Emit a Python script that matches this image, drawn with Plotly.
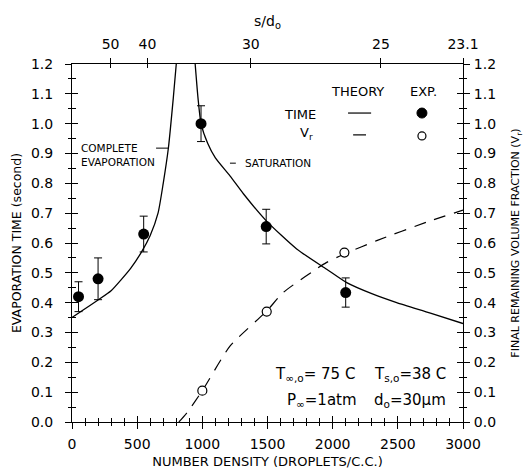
import plotly.graph_objects as go

# ---------------- data ----------------
# Theory: evaporation time (two branches around the singular region)
time_left_x = [0, 74, 200, 300, 381, 450, 535, 600, 660, 700, 740, 777, 800]
time_left_y = [0.35, 0.372, 0.409, 0.44, 0.479, 0.515, 0.571, 0.625, 0.70, 0.80, 0.92, 1.085, 1.2]
time_right_x = [945, 967, 990, 1040, 1100, 1212, 1315, 1489, 1724, 1954, 2108, 2300, 2491, 2750, 3000]
time_right_y = [1.2, 1.085, 1.0, 0.935, 0.885, 0.825, 0.765, 0.675, 0.58, 0.512, 0.467, 0.43, 0.40, 0.365, 0.33]

# Theory: final remaining volume fraction
vr_x = [820, 880, 1000, 1212, 1494, 1621, 1954, 2100, 2338, 2722, 3000]
vr_y = [0.0, 0.03, 0.105, 0.254, 0.372, 0.434, 0.535, 0.565, 0.608, 0.67, 0.71]

# Experiment: evaporation time with error bars
exp_time_x = [50, 200, 550, 990, 1490, 2100]
exp_time_y = [0.42, 0.48, 0.63, 1.00, 0.655, 0.434]
exp_time_err = [0.05, 0.07, 0.06, 0.06, 0.058, 0.049]

# Experiment: Vr
exp_vr_x = [1000, 1494, 2090]
exp_vr_y = [0.105, 0.37, 0.568]

# Axes
x_ticks = [0, 500, 1000, 1500, 2000, 2500, 3000]
top_tick_vals = [296, 579, 1372, 2370, 3000]
top_tick_text = ["50", "40", "30", "25", "23.1"]
y_ticks = [round(0.1 * i, 1) for i in range(13)]

FONT = "DejaVu Sans, Liberation Sans, sans-serif"

fig = go.Figure()

fig.add_trace(go.Scatter(x=time_left_x, y=time_left_y, mode="lines",
                         line=dict(color="black", width=1.3, shape="spline", smoothing=0.6),
                         showlegend=False))
fig.add_trace(go.Scatter(x=time_right_x, y=time_right_y, mode="lines",
                         line=dict(color="black", width=1.3, shape="spline", smoothing=0.6),
                         showlegend=False))
fig.add_trace(go.Scatter(x=vr_x, y=vr_y, mode="lines",
                         line=dict(color="black", width=1.2, dash="12px,9px",
                                   shape="spline", smoothing=0.6),
                         showlegend=False))
fig.add_trace(go.Scatter(x=exp_time_x, y=exp_time_y, mode="markers",
                         marker=dict(color="black", size=11),
                         error_y=dict(type="data", array=exp_time_err, visible=True,
                                      color="black", thickness=1, width=4),
                         showlegend=False))
fig.add_trace(go.Scatter(x=exp_vr_x, y=exp_vr_y, mode="markers",
                         marker=dict(color="white", size=9, line=dict(color="black", width=1.2)),
                         showlegend=False))

# empty carrier traces so the overlay axes get drawn
for xa, ya in [("x2", "y"), ("x3", "y"), ("x4", "y"), ("x", "y2"), ("x", "y3"), ("x", "y4")]:
    fig.add_trace(go.Scatter(x=[], y=[], xaxis=xa, yaxis=ya, mode="markers",
                             showlegend=False, hoverinfo="skip"))

tickfont = dict(family=FONT, size=14, color="black")
common = dict(showgrid=False, zeroline=False, linecolor="black", linewidth=1,
              tickcolor="black", tickwidth=1, automargin=False)

fig.update_layout(
    width=524, height=473,
    margin=dict(l=72, r=61, t=64, b=51),
    paper_bgcolor="white", plot_bgcolor="white",
    font=dict(family=FONT, color="black"),
    showlegend=False,
    xaxis=dict(range=[0, 3000], tickvals=x_ticks, ticks="outside", ticklen=6,
               showline=True, tickfont=tickfont, ticklabelstandoff=3,
               minor=dict(dtick=100, ticks="outside", ticklen=3, tickcolor="black"),
               title=dict(text="NUMBER DENSITY (DROPLETS/C.C.)",
                          font=dict(family=FONT, size=13), standoff=6),
               **common),
    xaxis2=dict(range=[0, 3000], overlaying="x", anchor="y", side="bottom",
                tickvals=x_ticks, ticks="inside", ticklen=6, showticklabels=False,
                showline=False,
                minor=dict(dtick=100, ticks="inside", ticklen=4, tickcolor="black"),
                **common),
    xaxis3=dict(range=[0, 3000], overlaying="x", anchor="y", side="top",
                tickvals=top_tick_vals, ticktext=top_tick_text, ticks="outside",
                ticklen=5, showline=True, tickfont=tickfont, ticklabelstandoff=3,
                title=dict(text="s/d<sub>o</sub>", font=dict(family=FONT, size=14), standoff=6),
                **common),
    xaxis4=dict(range=[0, 3000], overlaying="x", anchor="y", side="top",
                tickvals=top_tick_vals, ticks="inside", ticklen=4,
                showticklabels=False, showline=False, **common),
    yaxis=dict(range=[0, 1.2], tickvals=y_ticks, tickformat=".1f", ticks="outside",
               ticklen=6, showline=True, tickfont=tickfont, ticklabelstandoff=9,
               minor=dict(dtick=0.05, ticks="outside", ticklen=3, tickcolor="black"),
               title=dict(text="EVAPORATION TIME (second)",
                          font=dict(family=FONT, size=12.5), standoff=6),
               **common),
    yaxis2=dict(range=[0, 1.2], overlaying="y", anchor="x", side="left",
                tickvals=y_ticks, ticks="inside", ticklen=6, showticklabels=False,
                showline=False,
                minor=dict(dtick=0.05, ticks="inside", ticklen=4, tickcolor="black"),
                **common),
    yaxis3=dict(range=[0, 1.2], overlaying="y", anchor="x", side="right",
                tickvals=y_ticks, tickformat=".1f", ticks="outside", ticklen=6,
                showline=True, tickfont=tickfont, ticklabelstandoff=1,
                minor=dict(dtick=0.05, ticks="outside", ticklen=3, tickcolor="black"),
                title=dict(text="FINAL REMAINING VOLUME FRACTION (V<sub>r</sub>)",
                           font=dict(family=FONT, size=11), standoff=16),
                **common),
    yaxis4=dict(range=[0, 1.2], overlaying="y", anchor="x", side="right",
                tickvals=y_ticks, ticks="inside", ticklen=6, showticklabels=False,
                showline=False,
                minor=dict(dtick=0.05, ticks="inside", ticklen=4, tickcolor="black"),
                **common),
)

ann_font = dict(family=FONT, size=13, color="black")
small_font = dict(family=FONT, size=10.5, color="black")
cond_font = dict(family=FONT, size=15, color="black")

def ann(text, x, y, xanchor="left", font=ann_font, align="left"):
    fig.add_annotation(text=text, x=x, y=y, xref="paper", yref="paper",
                       xanchor=xanchor, yanchor="middle", showarrow=False,
                       font=font, align=align)

# legend block
ann("THEORY", 0.729, 0.922, xanchor="center")
ann("EXP.", 0.898, 0.922, xanchor="center")
ann("TIME", 0.629, 0.858, xanchor="right")
ann("V<sub>r</sub>", 0.621, 0.805, xanchor="right")
fig.add_shape(type="line", xref="paper", yref="paper", x0=0.706, x1=0.765,
              y0=0.863, y1=0.863, line=dict(color="black", width=1.2))
fig.add_shape(type="line", xref="paper", yref="paper", x0=0.719, x1=0.752,
              y0=0.802, y1=0.802, line=dict(color="black", width=1.2))
fig.add_shape(type="circle", xref="paper", yref="paper", xsizemode="pixel",
              ysizemode="pixel", xanchor=0.895, yanchor=0.863,
              x0=-5, x1=5, y0=-5, y1=5, fillcolor="black", line=dict(color="black", width=1))
fig.add_shape(type="circle", xref="paper", yref="paper", xsizemode="pixel",
              ysizemode="pixel", xanchor=0.895, yanchor=0.799,
              x0=-4, x1=4, y0=-4, y1=4, fillcolor="white", line=dict(color="black", width=1.2))

# curve labels
ann("COMPLETE<br>EVAPORATION", 0.018, 0.745, font=small_font)
fig.add_shape(type="line", xref="paper", yref="paper", x0=0.215, x1=0.246,
              y0=0.765, y1=0.765, line=dict(color="black", width=1))
ann("SATURATION", 0.437, 0.723, font=small_font)
fig.add_shape(type="line", xref="paper", yref="paper", x0=0.404, x1=0.419,
              y0=0.723, y1=0.723, line=dict(color="black", width=1))

# conditions
ann("T<sub>∞,o</sub>= 75 C", 0.514, 0.134, font=cond_font)
ann("T<sub>s,o</sub>=38 C", 0.767, 0.134, font=cond_font)
ann("P<sub>∞</sub>=1atm", 0.545, 0.061, font=cond_font)
ann("d<sub>o</sub>=30μm", 0.767, 0.061, font=cond_font)

fig.write_html("out.html")
